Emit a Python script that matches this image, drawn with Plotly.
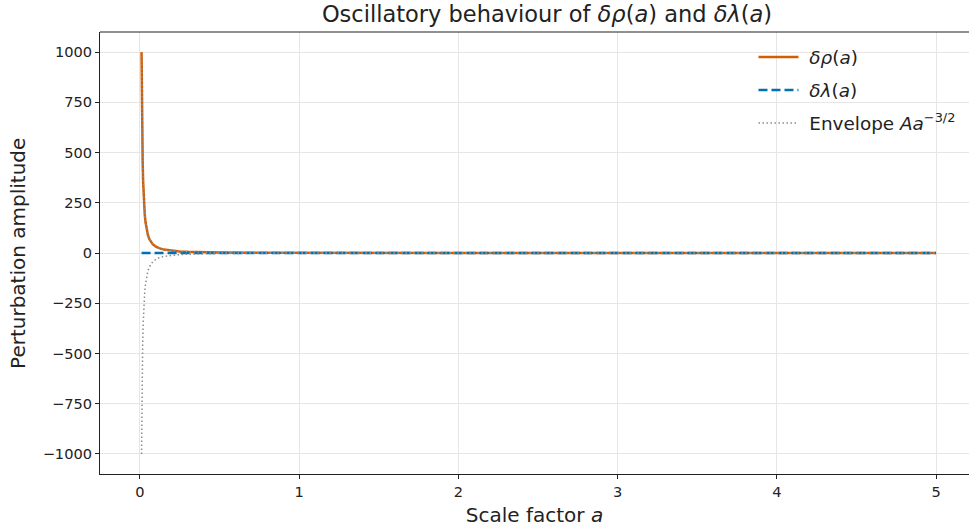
import plotly.graph_objects as go

# Scale factor samples
a_vals = [0.010, 0.011, 0.012, 0.013, 0.014, 0.015, 0.017, 0.020, 0.025, 0.030,
          0.035, 0.040, 0.050, 0.060, 0.070, 0.080, 0.100, 0.120, 0.150, 0.200,
          0.250, 0.300, 0.400, 0.500, 0.700, 1.000, 1.500, 2.000, 3.000, 4.000, 5.000]
# delta rho(a)
rho_vals = [1000, 867, 761, 675, 604, 544, 451, 354, 253, 192,
            153, 125, 89, 68, 54, 44, 32, 24, 17, 11,
            8, 6, 4, 2.8, 1.7, 1.0, 0.5, 0.35, 0.19, 0.12, 0.09]
# envelope A a^{-3/2}
env_vals = [1000, 867, 761, 675, 604, 544, 451, 354, 253, 192,
            153, 125, 89, 68, 54, 44, 32, 24, 17, 11,
            8, 6, 4, 2.8, 1.7, 1.0, 0.5, 0.35, 0.19, 0.12, 0.09]
env_neg = [-v for v in env_vals]
# delta lambda(a): flat near zero
lam_a = [0.01, 0.5, 1.0, 1.5, 2.0, 2.5, 3.0, 3.5, 4.0, 4.5, 5.0]
lam_vals = [0.0, 0.0, 0.0, 0.0, 0.0, 0.0, 0.0, 0.0, 0.0, 0.0, 0.0]

x_ticks = [0, 1, 2, 3, 4, 5]
y_ticks = [-1000, -750, -500, -250, 0, 250, 500, 750, 1000]
y_tick_labels = ["−1000", "−750", "−500", "−250", "0", "250", "500", "750", "1000"]

FONT = "DejaVu Sans"
TXT = "#222222"
NB = "\u00a0"

fig = go.Figure()
fig.add_trace(go.Scatter(x=a_vals, y=rho_vals, mode="lines", legendgroup="g1",
                         name=NB + "<i>δρ</i>(<i>a</i>)",
                         line=dict(color="#d55e00", width=2.5)))
fig.add_trace(go.Scatter(x=lam_a, y=lam_vals, mode="lines", legendgroup="g2",
                         name=NB + "<i>δλ</i>(<i>a</i>)",
                         line=dict(color="#0072b2", width=2.5, dash="9px,4px")))
fig.add_trace(go.Scatter(x=a_vals, y=env_vals, mode="lines", legendgroup="g3",
                         name=NB + "Envelope <i>Aa</i><sup>−3/2</sup>",
                         line=dict(color="#8c8c8c", width=1.5, dash="1.5px,2.5px")))
fig.add_trace(go.Scatter(x=a_vals, y=env_neg, mode="lines", showlegend=False, legendgroup="g3",
                         line=dict(color="#8c8c8c", width=1.5, dash="1.5px,2.5px")))

axis_common = dict(showline=True, linecolor=TXT, linewidth=1.1, automargin=False,
                   ticks="outside", ticklen=4, tickwidth=1, tickcolor=TXT,
                   showgrid=True, gridcolor="#e6e6e6", gridwidth=1,
                   zeroline=False, tickfont=dict(family=FONT, size=14.6, color=TXT))

fig.update_xaxes(range=[-0.251, 5.207], tickvals=x_ticks,
                 title=dict(text="Scale factor <i>a</i>", font=dict(family=FONT, size=20, color=TXT)),
                 **axis_common)
fig.update_yaxes(range=[-1100, 1100], tickvals=y_ticks, ticktext=y_tick_labels,
                 **axis_common)

fig.update_layout(
    width=969, height=527,
    margin=dict(l=100, r=0, t=32, b=53),
    plot_bgcolor="white", paper_bgcolor="white",
    title=dict(text="Oscillatory behaviour of <i>δρ</i>(<i>a</i>) and <i>δλ</i>(<i>a</i>)",
               x=0.5645, xanchor="center", y=0.973, yanchor="middle",
               font=dict(family=FONT, size=22.5, color=TXT)),
    legend=dict(x=0.752, y=0.985, xanchor="left", yanchor="top",
                bgcolor="rgba(0,0,0,0)", font=dict(family=FONT, size=18.4, color=TXT),
                itemwidth=40, tracegroupgap=6),
    showlegend=True,
)
# y-axis title
fig.add_annotation(text="Perturbation amplitude", xref="paper", yref="paper",
                   x=-0.0944, y=0.5, xanchor="center", yanchor="middle", textangle=-90,
                   showarrow=False, font=dict(family=FONT, size=20, color=TXT))
# top spine
fig.add_shape(type="line", xref="paper", yref="paper", x0=0, x1=1, y0=1, y1=1,
              line=dict(color=TXT, width=1.1))

fig.write_html("out.html", config={"displayModeBar": False},
               post_script="document.body.style.margin='0px';document.body.style.overflow='hidden';")
